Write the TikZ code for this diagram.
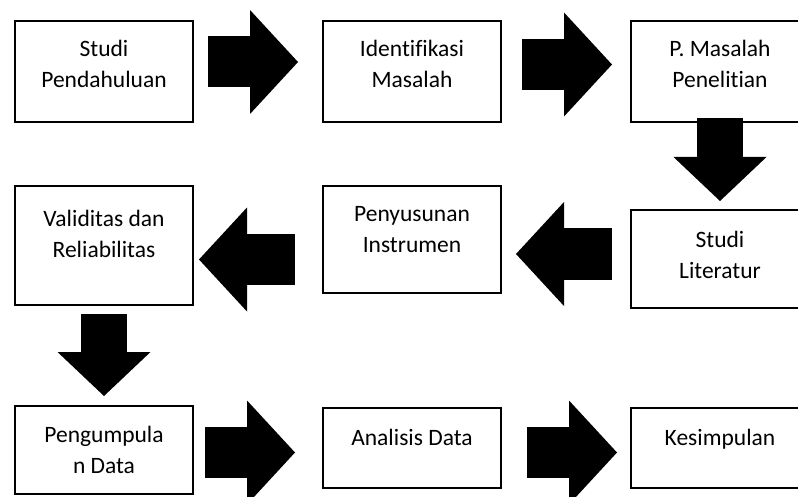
\documentclass[tikz,border=0pt]{standalone}
\usepackage{fontspec}
\setmainfont{Carlito}[Ligatures=NoCommon]
\usetikzlibrary{positioning,arrows.meta}

\begin{document}
\begin{tikzpicture}[
    x=1pt, y=-1pt,
    node distance=130pt,
    box/.style={draw, line width=2.5pt, outer sep=0pt, inner sep=0pt, minimum width=178pt, align=center, text height=67pt, font=\fontsize{23.5}{31}\selectfont},
    harrow/.style={line width=51pt, -{Triangle[width=104pt,length=48pt,line width=0pt]}},
    varrow/.style={line width=46pt, -{Triangle[width=93pt,length=44pt,line width=0pt]}}
]
\useasboundingbox (0,0) rectangle (798,497);

% Top row
\node[box, text depth=34pt] (studi) at (104,71.5) {Studi\\Pendahuluan};
\node[box, text depth=34pt, right=of studi] (identifikasi) {Identifikasi\\Masalah};
\node[box, text depth=34pt, right=of identifikasi] (masalah) {P. Masalah\\Penelitian};

% Middle row
\node[box, text height=68pt, text depth=30pt, below=88pt of masalah] (literatur) {Studi\\Literatur};
\node[box, text height=66pt, text depth=41pt, left=of literatur, yshift=19.5pt] (penyusunan) {Penyusunan\\Instrumen};
\node[box, text height=72pt, text depth=47pt, left=of penyusunan, yshift=-6pt] (validitas) {Validitas dan\\Reliabilitas};

% Bottom row
\node[box, text depth=21pt, below=101pt of validitas] (pengumpulan) {Pengumpula\\n Data};
\node[box, text height=37pt, text depth=43pt, right=of pengumpulan, yshift=2pt] (analisis) {Analisis Data};
\node[box, text height=37pt, text depth=43pt, right=of analisis] (kesimpulan) {Kesimpulan};

% Arrows
\draw[harrow, shorten <=15pt, shorten >=25pt] ([yshift=9.5pt]studi.east) -- ([yshift=9.5pt]studi.east -| identifikasi.west);
\draw[harrow, shorten <=21pt, shorten >=19pt] ([yshift=7pt]identifikasi.east) -- ([yshift=7pt]identifikasi.east -| masalah.west);
\draw[varrow, shorten <=-4pt, shorten >=9pt] (masalah.south) -- (literatur.north);
\draw[harrow, shorten <=19pt, shorten >=15pt] ([yshift=5pt]literatur.west) -- ([yshift=5pt]literatur.west -| penyusunan.east);
\draw[harrow, shorten <=28pt, shorten >=6pt] ([yshift=-20pt]penyusunan.west) -- ([yshift=-20pt]penyusunan.west -| validitas.east);
\draw[varrow, shorten <=9pt, shorten >=10pt] (validitas.south) -- (pengumpulan.north);
\draw[harrow, shorten <=12pt, shorten >=28pt] ([yshift=-2.5pt]pengumpulan.east) -- ([yshift=-2.5pt]pengumpulan.east -| analisis.west);
\draw[harrow, shorten <=26pt, shorten >=14pt] ([yshift=-4.5pt]analisis.east) -- ([yshift=-4.5pt]analisis.east -| kesimpulan.west);
\end{tikzpicture}
\end{document}
